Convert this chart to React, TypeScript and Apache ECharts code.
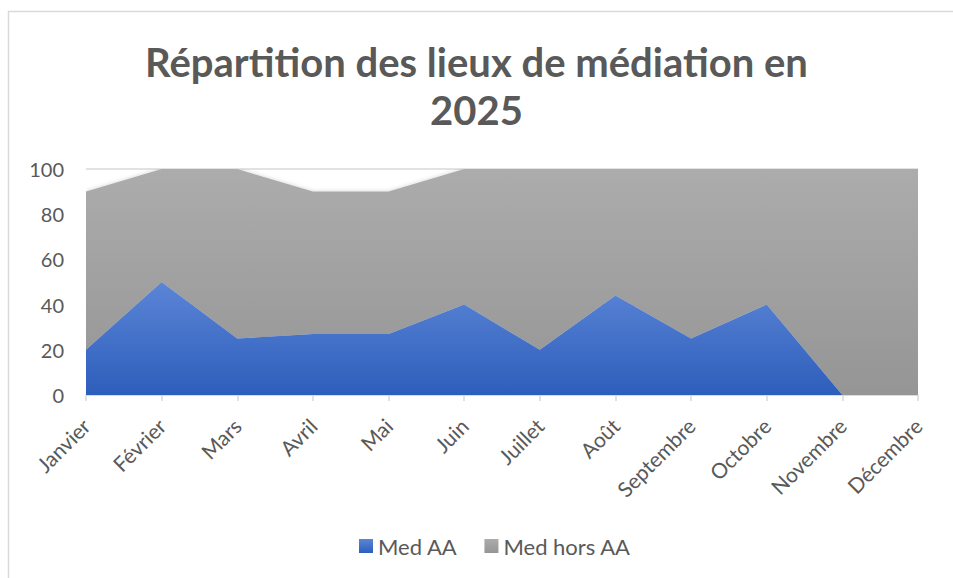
import React, { useEffect, useRef } from "react";
import * as echarts from "echarts";

const months = ["Janvier", "Février", "Mars", "Avril", "Mai", "Juin", "Juillet", "Août", "Septembre", "Octobre", "Novembre", "Décembre"];
const medAA = [20, 50, 25, 27, 27, 40, 20, 44, 25, 40, 0, 0];
const medHorsAA = [70, 50, 75, 63, 63, 60, 80, 56, 75, 60, 100, 100];
const yTicks = { min: 0, max: 100, interval: 20 };
const titleText = "Répartition des lieux de médiation en\n2025";

const FONT = "Lato, 'Open Sans', sans-serif";

export default function App() {
  const ref = useRef<HTMLDivElement>(null);
  useEffect(() => {
    if (!ref.current) return;
    const chart = echarts.init(ref.current, null, { renderer: "svg" });
    const blue = new echarts.graphic.LinearGradient(0, 0, 0, 1, [
      { offset: 0, color: "#5B85D6" },
      { offset: 1, color: "#2D5EBB" },
    ]);
    const gray = new echarts.graphic.LinearGradient(0, 0, 0, 1, [
      { offset: 0, color: "#ACACAC" },
      { offset: 1, color: "#959595" },
    ]);
    chart.setOption({
      animation: false,
      backgroundColor: "#ffffff",
      textStyle: { fontFamily: FONT },
      title: {
        text: titleText,
        left: "center",
        top: 33,
        textStyle: {
          fontFamily: FONT,
          fontSize: 40,
          fontWeight: "bold",
          color: "#595959",
          lineHeight: 48,
        },
      },
      graphic: [
        {
          type: "rect",
          shape: { x: 8.5, y: 11.5, width: 1200, height: 1200 },
          style: { fill: "none", stroke: "#d9d9d9", lineWidth: 1.5 },
          silent: true,
        },
      ],
      legend: {
        bottom: 16,
        left: 354,
        itemWidth: 14,
        itemHeight: 14,
        itemGap: 27,
        icon: "rect",
        textStyle: { fontFamily: FONT, fontSize: 22, color: "#595959" },
        data: ["Med AA", "Med hors AA"],
      },
      grid: { left: 86, right: 35, top: 169, bottom: 183 },
      xAxis: {
        type: "category",
        data: months,
        boundaryGap: false,
        axisLine: { lineStyle: { color: "#d9d9d9", width: 1.5 } },
        axisTick: { show: true, length: 6, lineStyle: { color: "#d9d9d9", width: 1.5 } },
        axisLabel: {
          rotate: 45,
          margin: 27,
          interval: 0,
          fontFamily: FONT,
          fontSize: 21,
          color: "#595959",
        },
      },
      yAxis: {
        type: "value",
        min: yTicks.min,
        max: yTicks.max,
        interval: yTicks.interval,
        axisLine: { show: false },
        axisTick: { show: false },
        axisLabel: { margin: 22, fontFamily: FONT, fontSize: 20, color: "#595959" },
        splitLine: { lineStyle: { color: "#d9d9d9", width: 1.5 } },
      },
      series: [
        {
          name: "Med AA",
          type: "line",
          stack: "total",
          data: medAA,
          showSymbol: false,
          symbol: "none",
          lineStyle: { width: 0 },
          itemStyle: { color: blue },
          areaStyle: { color: blue, opacity: 1 },
          z: 3,
        },
        {
          name: "Med hors AA",
          type: "line",
          stack: "total",
          data: medHorsAA,
          showSymbol: false,
          symbol: "none",
          lineStyle: { width: 0 },
          itemStyle: { color: gray },
          areaStyle: { color: gray, opacity: 1, shadowColor: "rgba(0,0,0,0.18)", shadowBlur: 4 },
          z: 2,
        },
      ],
    });
    return () => chart.dispose();
  }, []);
  return (
    <div
      ref={ref}
      style={{ position: "fixed", left: 0, top: 0, width: 953, height: 578 }}
    />
  );
}
